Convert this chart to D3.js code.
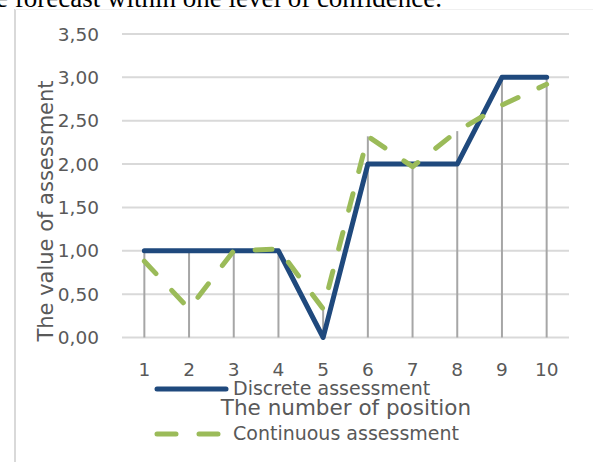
<!DOCTYPE html>
<html>
<head>
<meta charset="utf-8">
<script src="https://cdn.jsdelivr.net/npm/d3@7"></script>
<style>
  body { margin: 0; background: #fff; }
  svg { display: block; }
</style>
</head>
<body>
<div id="chart"></div>
<script>
// chart values
var positions = [1, 2, 3, 4, 5, 6, 7, 8, 9, 10];
var discrete = [1, 1, 1, 1, 0, 2, 2, 2, 3, 3];
var continuous = [0.88, 0.33, 1.0, 1.02, 0.33, 2.32, 1.97, 2.38, 2.68, 2.92];
var yTicks = [0, 0.5, 1, 1.5, 2, 2.5, 3, 3.5];
var seriesNames = ["Discrete assessment", "Continuous assessment"];

var width = 593, height = 462;
var font = "'DejaVu Sans', sans-serif";
var labelColor = "#595959";
var blue = "#1f497d", green = "#9bbb59";

var svg = d3.select("#chart").append("svg")
  .attr("width", width)
  .attr("height", height);

// text of the page above, cut by the crop
svg.append("text")
  .attr("x", -4).attr("y", 6.5)
  .attr("font-family", "'Liberation Serif', serif")
  .attr("font-size", 27)
  .attr("fill", "#000")
  .text("e forecast within one level of confidence.");

// chart border (left and top)
svg.append("line").attr("x1", 15).attr("x2", 15).attr("y1", 9).attr("y2", height)
  .attr("stroke", "#d9d9d9").attr("stroke-width", 2);
svg.append("line").attr("x1", 15).attr("x2", width).attr("y1", 9.5).attr("y2", 9.5)
  .attr("stroke", "#f0f0f0").attr("stroke-width", 1);

var x = d3.scaleBand().domain(positions).range([122, 569]);
var cx = function(d) { return x(d) + x.bandwidth() / 2; };
var y = d3.scaleLinear().domain([0, 3.5]).range([337.5, 34]);
var fmt = function(v) { return d3.format(".2f")(v).replace(".", ","); };

// gridlines
svg.append("g").selectAll("line")
  .data(yTicks)
  .enter().append("line")
  .attr("x1", 122).attr("x2", 569)
  .attr("y1", function(d) { return y(d); })
  .attr("y2", function(d) { return y(d); })
  .attr("stroke", "#d9d9d9").attr("stroke-width", 2);

// y tick labels
svg.append("g").selectAll("text")
  .data(yTicks)
  .enter().append("text")
  .attr("x", 99)
  .attr("y", function(d) { return y(d); })
  .attr("dy", "0.36em")
  .attr("text-anchor", "end")
  .attr("font-family", font).attr("font-size", 18.5)
  .attr("fill", labelColor)
  .text(fmt);

// drop lines
svg.append("g").selectAll("line")
  .data(positions)
  .enter().append("line")
  .attr("x1", cx).attr("x2", cx)
  .attr("y1", function(d, i) { return y(Math.max(discrete[i], continuous[i])); })
  .attr("y2", y(0))
  .attr("stroke", "#a6a6a6").attr("stroke-width", 2);

// x tick labels
svg.append("g").selectAll("text")
  .data(positions)
  .enter().append("text")
  .attr("x", cx)
  .attr("y", 376)
  .attr("text-anchor", "middle")
  .attr("font-family", font).attr("font-size", 18.5)
  .attr("fill", labelColor)
  .text(function(d) { return d; });

var line = d3.line()
  .x(function(d) { return cx(d.p); })
  .y(function(d) { return y(d.v); });

svg.append("path")
  .datum(positions.map(function(p, i) { return { p: p, v: discrete[i] }; }))
  .attr("d", line)
  .attr("fill", "none")
  .attr("stroke", blue).attr("stroke-width", 5)
  .attr("stroke-linejoin", "round").attr("stroke-linecap", "round");

svg.append("path")
  .datum(positions.map(function(p, i) { return { p: p, v: continuous[i] }; }))
  .attr("d", line)
  .attr("fill", "none")
  .attr("stroke", green).attr("stroke-width", 5)
  .attr("stroke-dasharray", "17,23")
  .attr("stroke-linejoin", "round").attr("stroke-linecap", "round");

// axis titles
svg.append("text")
  .attr("transform", "translate(53,211) rotate(-90)")
  .attr("text-anchor", "middle")
  .attr("font-family", font).attr("font-size", 21)
  .attr("fill", labelColor)
  .text("The value of assessment");

svg.append("text")
  .attr("x", 346).attr("y", 415)
  .attr("text-anchor", "middle")
  .attr("font-family", font).attr("font-size", 21.5)
  .attr("fill", labelColor)
  .text("The number of position");

// legend
var legend = svg.append("g");
legend.append("line")
  .attr("x1", 157).attr("x2", 226).attr("y1", 389).attr("y2", 389)
  .attr("stroke", blue).attr("stroke-width", 5).attr("stroke-linecap", "round");
legend.append("text")
  .attr("x", 233).attr("y", 395)
  .attr("font-family", font).attr("font-size", 19)
  .attr("fill", labelColor)
  .text(seriesNames[0]);
legend.append("line")
  .attr("x1", 157).attr("x2", 220).attr("y1", 434).attr("y2", 434)
  .attr("stroke", green).attr("stroke-width", 5).attr("stroke-linecap", "round")
  .attr("stroke-dasharray", "19,23");
legend.append("text")
  .attr("x", 233).attr("y", 440)
  .attr("font-family", font).attr("font-size", 19)
  .attr("fill", labelColor)
  .text(seriesNames[1]);
</script>
</body>
</html>
